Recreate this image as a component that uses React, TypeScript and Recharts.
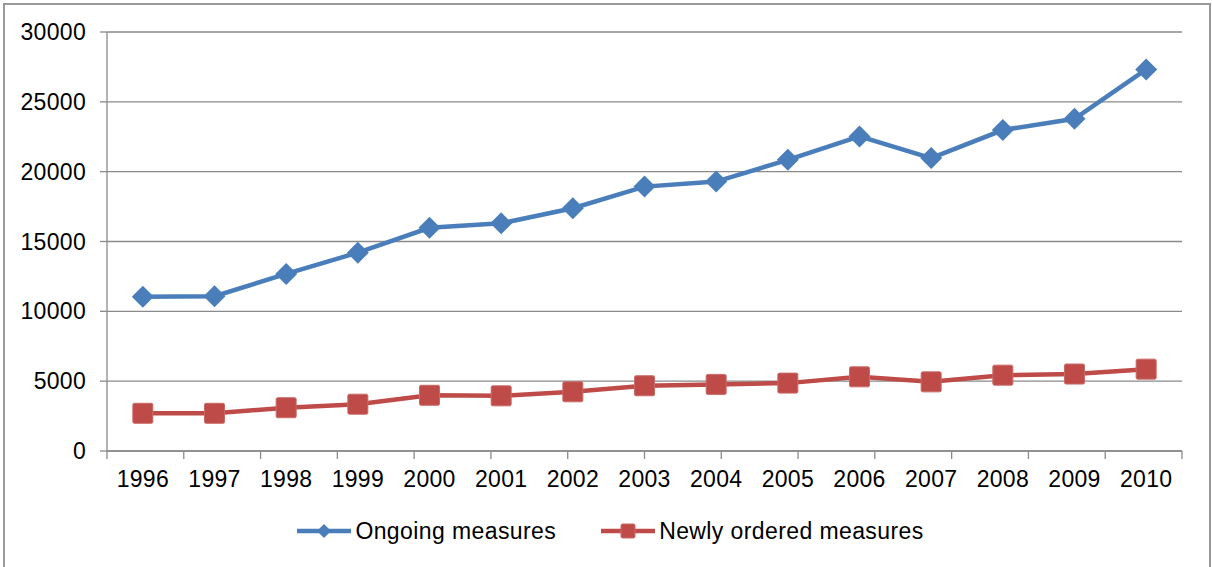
import { CartesianGrid, Legend, Line, LineChart, XAxis, YAxis } from "recharts";

const years = ["1996", "1997", "1998", "1999", "2000", "2001", "2002", "2003", "2004", "2005", "2006", "2007", "2008", "2009", "2010"];
const ongoing = [11050, 11080, 12680, 14200, 15980, 16300, 17380, 18930, 19290, 20850, 22520, 20970, 22980, 23790, 27320];
const newlyOrdered = [2700, 2700, 3100, 3350, 3990, 3950, 4240, 4670, 4770, 4860, 5310, 4950, 5430, 5510, 5860];
const yTicks = [0, 5000, 10000, 15000, 20000, 25000, 30000];
// category boundaries, so x ticks sit between the years
const edgeTicks = [0, 1, 2, 3, 4, 5, 6, 7, 8, 9, 10, 11, 12, 13, 14, 15];

const BLUE = "#4a7ebb";
const RED = "#be4b48";
const AXIS = "#8a8a8a";
const FONT = "'Liberation Sans', Arial, sans-serif";
const labelStyle = { fill: "#000", fontSize: 23, fontFamily: FONT, letterSpacing: 0.3 };

const data = years.map((year, i) => ({ year, ongoing: ongoing[i], newlyOrdered: newlyOrdered[i] }));

const series = [
  { key: "ongoing", name: "Ongoing measures", color: BLUE, shape: "diamond" },
  { key: "newlyOrdered", name: "Newly ordered measures", color: RED, shape: "square" },
];

function Marker({ cx, cy, size, shape, color }: { cx: number; cy: number; size: number; shape: string; color: string }) {
  if (shape === "diamond") {
    return <path d={`M${cx} ${cy - size}L${cx + size} ${cy}L${cx} ${cy + size}L${cx - size} ${cy}Z`} fill={color} />;
  }
  return <rect x={cx - size} y={cy - size} width={size * 2} height={size * 2} rx={1.5} fill={color} stroke="#c96a67" strokeWidth={1} />;
}

function ChartLegend() {
  return (
    <div style={{ height: 76, display: "flex", justifyContent: "center", alignItems: "center", paddingTop: 4, paddingLeft: 38, boxSizing: "border-box" }}>
      {series.map((s, i) => (
        <div key={s.key} style={{ display: "flex", alignItems: "center", marginLeft: i ? 44 : 0 }}>
          <svg width={56} height={20}>
            <line x1={1} y1={10} x2={55} y2={10} stroke={s.color} strokeWidth={4.5} />
            <Marker cx={28} cy={10} size={7} shape={s.shape} color={s.color} />
          </svg>
          <span style={{ fontFamily: FONT, fontSize: 23, letterSpacing: 0.4, color: "#000", marginLeft: 3 }}>{s.name}</span>
        </div>
      ))}
    </div>
  );
}

export default function App() {
  return (
    <div style={{ position: "fixed", left: 0, top: 0, width: 1212, height: 567, background: "#fff", overflow: "hidden" }}>
      <div style={{ position: "absolute", left: 3, top: 3, width: 1204, height: 580, border: "2px solid #9a9a9a" }} />
      <LineChart width={1212} height={567} data={data} margin={{ top: 32, right: 30, left: 0, bottom: 0 }}>
        <CartesianGrid vertical={false} stroke={AXIS} strokeWidth={1.3} />
        <XAxis
          xAxisId="edges"
          type="number"
          domain={[0, 15]}
          allowDataOverflow
          ticks={edgeTicks}
          interval={0}
          tick={() => <g />}
          tickLine={{ stroke: AXIS, strokeWidth: 1.3 }}
          tickSize={8}
          height={1}
          axisLine={{ stroke: AXIS, strokeWidth: 1.3 }}
        />
        <XAxis
          xAxisId="years"
          dataKey="year"
          scale="band"
          height={39}
          axisLine={false}
          tickLine={false}
          tickSize={0}
          tickMargin={19}
          interval={0}
          tick={labelStyle}
        />
        <YAxis
          width={107}
          domain={[0, 30000]}
          ticks={yTicks}
          tickSize={7}
          tickMargin={14}
          stroke={AXIS}
          axisLine={{ stroke: AXIS, strokeWidth: 1.3 }}
          tickLine={{ stroke: AXIS, strokeWidth: 1.3 }}
          tick={labelStyle}
        />
        <Legend verticalAlign="bottom" height={76} content={() => <ChartLegend />} />
        {series.map((s) => (
          <Line
            key={s.key}
            xAxisId="years"
            dataKey={s.key}
            name={s.name}
            stroke={s.color}
            strokeWidth={4.5}
            isAnimationActive={false}
            dot={(p: any) => <Marker key={p.index} cx={p.cx} cy={p.cy} size={s.shape === "diamond" ? 11 : 10} shape={s.shape} color={s.color} />}
            activeDot={false}
          />
        ))}
      </LineChart>
    </div>
  );
}
